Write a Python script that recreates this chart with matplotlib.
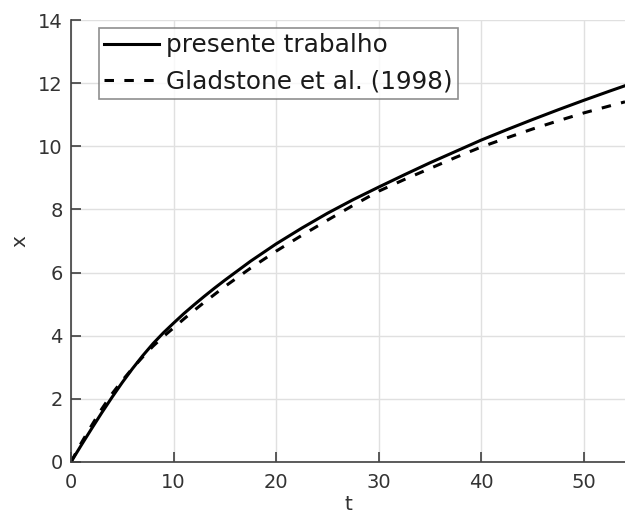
import matplotlib
matplotlib.use("Agg")
import matplotlib.pyplot as plt
import numpy as np

# curva do presente trabalho
t_pres = [0, 1, 2, 3, 4, 5, 6, 7, 8, 9, 10, 11, 12, 13, 14, 15, 17.5, 20,
          22.5, 25, 27.5, 30, 32.5, 35, 37.5, 40, 42.5, 45, 47.5, 50, 52.5, 54]
x_pres = [0, 0.53, 1.05, 1.56, 2.05, 2.52, 2.96, 3.37, 3.75, 4.09, 4.40,
          4.70, 4.98, 5.25, 5.51, 5.76, 6.36, 6.91, 7.41, 7.88, 8.31, 8.71,
          9.10, 9.48, 9.84, 10.20, 10.53, 10.85, 11.16, 11.46, 11.75, 11.92]

# referência: Gladstone et al. (1998)
t_glad = [0, 1, 2, 3, 4, 5, 6, 7, 8, 9, 10, 11, 12, 13, 14, 15, 17.5, 20,
          22.5, 25, 27.5, 30, 32.5, 35, 37.5, 40, 42.5, 45, 47.5, 50, 52.5, 54]
x_glad = [0, 0.60, 1.15, 1.68, 2.16, 2.58, 2.97, 3.33, 3.67, 3.97, 4.25,
          4.53, 4.80, 5.06, 5.31, 5.56, 6.14, 6.68, 7.18, 7.66, 8.13, 8.58,
          8.95, 9.30, 9.65, 9.98, 10.27, 10.55, 10.81, 11.06, 11.28, 11.41]

plt.rcParams["font.family"] = "DejaVu Sans"
cor_eixo = "0.25"

fig = plt.figure(figsize=(6.25, 5.15), dpi=100)
ax = fig.add_axes([0.1136, 0.103, 0.8864, 0.858])

ax.plot(t_pres, x_pres, "-", color="k", lw=2.2, label="presente trabalho")
ax.plot(t_glad, x_glad, "--", color="k", lw=2.2, dashes=(3.1, 3.4),
        label="Gladstone et al. (1998)")

ax.set_xlim(0, 54)
ax.set_ylim(0, 14)
ax.set_xticks(np.arange(0, 51, 10))
ax.set_yticks(np.arange(0, 15, 2))
ax.grid(True, color="0.88", lw=1.0)
ax.set_axisbelow(True)

for lado in ["top", "right"]:
    ax.spines[lado].set_visible(False)
for lado in ["left", "bottom"]:
    ax.spines[lado].set_color(cor_eixo)
    ax.spines[lado].set_linewidth(1.2)

ax.tick_params(direction="in", length=7, width=1.2, colors=cor_eixo,
               labelsize=14, labelcolor="0.2")
ax.tick_params(axis="x", pad=8)
ax.tick_params(axis="y", pad=6)

ax.set_xlabel("t", fontsize=14.5, color="0.2", labelpad=2)
ax.set_ylabel("x", fontsize=14.5, color="0.2", labelpad=6)

leg = ax.legend(loc="upper left", bbox_to_anchor=(0.05, 0.982), fontsize=17.8,
                frameon=True, fancybox=False, handlelength=2.2,
                handletextpad=0.3, borderpad=0.22, labelspacing=0.48,
                borderaxespad=0)
leg.get_frame().set_edgecolor("0.45")
leg.get_frame().set_linewidth(1.2)
for txt in leg.get_texts():
    txt.set_color("0.1")

fig.savefig("out.png", dpi=100)
